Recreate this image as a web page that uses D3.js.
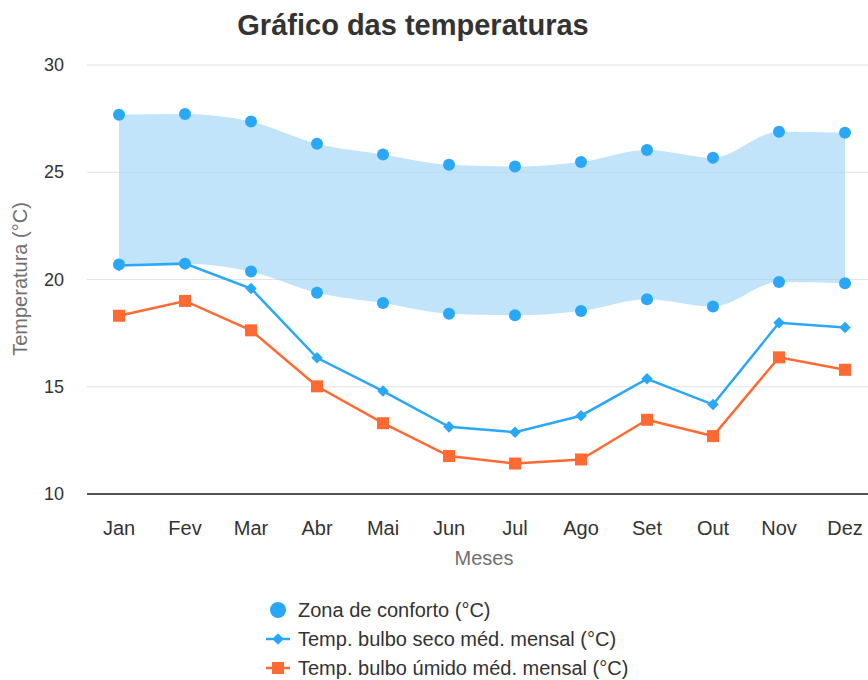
<!DOCTYPE html>
<html>
<head>
<meta charset="utf-8">
<script src="https://cdn.jsdelivr.net/npm/d3@7"></script>
<style>
  body { margin: 0; background: #fff; }
  svg { font-family: "Liberation Sans", Arial, Helvetica, sans-serif; }
</style>
</head>
<body>
<div id="chart"></div>
<script>
// data
let months = ["Jan", "Fev", "Mar", "Abr", "Mai", "Jun", "Jul", "Ago", "Set", "Out", "Nov", "Dez"];
let confortoMax = [27.68, 27.72, 27.37, 26.33, 25.83, 25.35, 25.27, 25.48, 26.04, 25.68, 26.89, 26.84];
let confortoMin = [20.70, 20.74, 20.37, 19.38, 18.90, 18.40, 18.33, 18.53, 19.08, 18.74, 19.88, 19.83];
let bulboSeco = [20.65, 20.74, 19.58, 16.35, 14.80, 13.13, 12.88, 13.65, 15.37, 14.17, 17.98, 17.76];
let bulboUmido = [18.31, 19.00, 17.63, 15.02, 13.30, 11.77, 11.42, 11.61, 13.46, 12.70, 16.37, 15.79];
let yTicks = [10, 15, 20, 25, 30];

let blue = "#2aa8f7";
let orange = "#ff6a33";

let svg = d3.select("#chart")
	.append("svg")
	.attr("width", 868)
	.attr("height", 680);

let xScale = d3.scaleBand().domain(months).range([86, 878]);
let yScale = d3.scaleLinear().domain([10, 30]).range([494, 65]);
let cx = function (d, i) { return xScale(months[i]) + xScale.bandwidth() / 2; };

// title
svg.append("text")
	.attr("x", 413)
	.attr("y", 35)
	.attr("text-anchor", "middle")
	.style("font-size", "29px")
	.style("font-weight", "bold")
	.attr("fill", "#333")
	.text("Gráfico das temperaturas");

// grid lines
svg.append("g")
	.selectAll("line")
	.data(yTicks.slice(1))
	.enter().append("line")
	.attr("x1", 87)
	.attr("x2", 868)
	.attr("y1", function (d) { return yScale(d); })
	.attr("y2", function (d) { return yScale(d); })
	.attr("stroke", "#e3e3e3")
	.attr("stroke-width", 1);

// y labels
svg.append("g")
	.selectAll("text")
	.data(yTicks)
	.enter().append("text")
	.attr("x", 64)
	.attr("y", function (d) { return yScale(d) + 6; })
	.attr("text-anchor", "end")
	.style("font-size", "18px")
	.attr("fill", "#333")
	.text(function (d) { return d; });

svg.append("text")
	.attr("transform", "translate(27,279) rotate(-90)")
	.attr("text-anchor", "middle")
	.style("font-size", "20px")
	.attr("fill", "#707070")
	.text("Temperatura (°C)");

// comfort zone area
let area = d3.area()
	.x(function (d, i) { return cx(d, i); })
	.y0(function (d, i) { return yScale(confortoMin[i]); })
	.y1(function (d, i) { return yScale(confortoMax[i]); })
	.curve(d3.curveMonotoneX);

svg.append("path")
	.datum(months)
	.attr("d", area)
	.attr("fill", "#9fd6f8")
	.attr("fill-opacity", 0.65);

// x axis line
svg.append("line")
	.attr("x1", 87)
	.attr("x2", 868)
	.attr("y1", yScale(10))
	.attr("y2", yScale(10))
	.attr("stroke", "#555")
	.attr("stroke-width", 2);

svg.append("g")
	.selectAll("text")
	.data(months)
	.enter().append("text")
	.attr("x", function (d) { return xScale(d) + xScale.bandwidth() / 2; })
	.attr("y", 535)
	.attr("text-anchor", "middle")
	.style("font-size", "20px")
	.attr("fill", "#333")
	.text(function (d) { return d; });

svg.append("text")
	.attr("x", 484)
	.attr("y", 565)
	.attr("text-anchor", "middle")
	.style("font-size", "20px")
	.attr("fill", "#707070")
	.text("Meses");

// lines
let line = d3.line()
	.x(function (d, i) { return cx(d, i); })
	.y(function (d) { return yScale(d); });

svg.append("path")
	.datum(bulboUmido)
	.attr("d", line)
	.attr("fill", "none")
	.attr("stroke", orange)
	.attr("stroke-width", 2.5);

svg.append("path")
	.datum(bulboSeco)
	.attr("d", line)
	.attr("fill", "none")
	.attr("stroke", blue)
	.attr("stroke-width", 2.5);

// markers
svg.append("g")
	.selectAll("rect")
	.data(bulboUmido)
	.enter().append("rect")
	.attr("x", function (d, i) { return cx(d, i) - 6; })
	.attr("y", function (d) { return yScale(d) - 6; })
	.attr("width", 12)
	.attr("height", 12)
	.attr("fill", orange);

let diamond = d3.symbol().type(d3.symbolDiamond2).size(85);
svg.append("g")
	.selectAll("path")
	.data(bulboSeco)
	.enter().append("path")
	.attr("d", diamond)
	.attr("transform", function (d, i) { return "translate(" + cx(d, i) + "," + yScale(d) + ")"; })
	.attr("fill", blue);

svg.append("g")
	.selectAll("circle")
	.data(confortoMax.concat(confortoMin))
	.enter().append("circle")
	.attr("cx", function (d, i) { return cx(d, i % 12); })
	.attr("cy", function (d) { return yScale(d); })
	.attr("r", 6)
	.attr("fill", blue);

// legend
let legend = svg.append("g").style("font-size", "20px").attr("fill", "#333");

legend.append("circle")
	.attr("cx", 278).attr("cy", 610).attr("r", 8).attr("fill", blue);
legend.append("text").attr("x", 298).attr("y", 617).text("Zona de conforto (°C)");

legend.append("line")
	.attr("x1", 266).attr("x2", 290).attr("y1", 639).attr("y2", 639)
	.attr("stroke", blue).attr("stroke-width", 2.5);
legend.append("path")
	.attr("d", d3.symbol().type(d3.symbolDiamond2).size(85))
	.attr("transform", "translate(278,639)")
	.attr("fill", blue);
legend.append("text").attr("x", 298).attr("y", 646).text("Temp. bulbo seco méd. mensal (°C)");

legend.append("line")
	.attr("x1", 266).attr("x2", 290).attr("y1", 668).attr("y2", 668)
	.attr("stroke", orange).attr("stroke-width", 2.5);
legend.append("rect")
	.attr("x", 272).attr("y", 662).attr("width", 12).attr("height", 12)
	.attr("fill", orange);
legend.append("text").attr("x", 298).attr("y", 675).text("Temp. bulbo úmido méd. mensal (°C)");
</script>
</body>
</html>
